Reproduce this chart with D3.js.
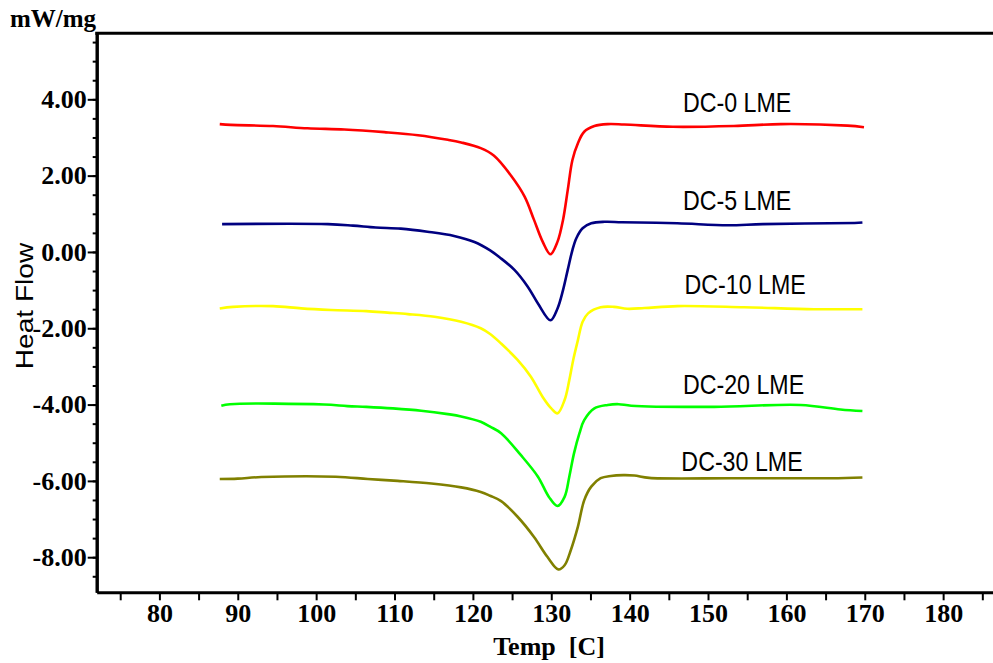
<!DOCTYPE html>
<html>
<head>
<meta charset="utf-8">
<script src="https://cdn.jsdelivr.net/npm/d3@7"></script>
<style>
  body { margin: 0; background: #fff; }
  svg { display: block; }
</style>
</head>
<body>
<div class="container"></div>
<script>
var width = 993, height = 663;

// DSC curves, [temp C, heat flow mW/mg]
var seriesNames = ["DC-0 LME", "DC-5 LME", "DC-10 LME", "DC-20 LME", "DC-30 LME"];
var seriesColors = ["#ff0000", "#000080", "#ffff00", "#00ff00", "#808000"];

var dc0 = [[87.7,3.35],[89.1,3.33],[94.5,3.30],[98.9,3.24],[103.6,3.21],[108.7,3.14],[113.0,3.06],
  [116.8,2.94],[118.5,2.87],[121.0,2.72],[122.7,2.52],[124.9,1.99],[126.6,1.45],[127.8,0.84],
  [128.9,0.27],[129.9,-0.06],[130.8,0.27],[131.5,0.84],[132.1,1.62],[132.7,2.41],[133.4,2.85],
  [134.2,3.15],[135.5,3.30],[137.2,3.35],[139.3,3.34],[145.5,3.28],[153.3,3.30],[159.3,3.35],
  [167.8,3.31],[169.9,3.27]];
var dc5 = [[88.0,0.73],[101.5,0.73],[104.7,0.69],[107.6,0.64],[110.8,0.61],[114.2,0.53],[117.6,0.42],
  [120.2,0.26],[122.2,0.04],[123.4,-0.14],[125.3,-0.47],[127.0,-0.91],[128.3,-1.35],[129.9,-1.79],
  [130.8,-1.48],[131.5,-1.00],[132.1,-0.47],[132.7,0.05],[133.2,0.36],[134.0,0.62],[135.1,0.75],
  [136.8,0.79],[139.0,0.78],[146.1,0.75],[152.5,0.70],[157.0,0.73],[168.7,0.76],[169.7,0.77]];
var dc10 = [[87.7,-1.48],[89.4,-1.44],[94.5,-1.42],[98.1,-1.48],[101.9,-1.52],[106.4,-1.55],[109.1,-1.59],
  [111.7,-1.63],[115.1,-1.70],[118.5,-1.83],[121.0,-2.00],[122.2,-2.15],[123.6,-2.40],[125.7,-2.83],
  [127.4,-3.27],[128.9,-3.80],[130.0,-4.10],[130.8,-4.23],[131.7,-3.88],[132.3,-3.36],[132.8,-2.83],
  [133.4,-2.31],[134.0,-1.83],[134.7,-1.61],[136.3,-1.45],[138.0,-1.44],[139.7,-1.49],
  [141.9,-1.47],[146.1,-1.42],[154.6,-1.45],[163.5,-1.50],[169.7,-1.50]];
var dc20 = [[87.9,-4.03],[89.0,-3.99],[101.0,-4.00],[104.0,-4.04],[106.4,-4.06],[109.8,-4.10],[113.4,-4.16],
  [116.8,-4.25],[118.5,-4.31],[121.0,-4.45],[122.2,-4.58],[123.6,-4.75],[126.1,-5.32],[128.3,-5.89],
  [129.7,-6.42],[130.8,-6.66],[131.7,-6.42],[132.3,-5.89],[132.9,-5.28],[133.6,-4.75],[134.2,-4.41],
  [135.5,-4.10],[137.2,-4.01],[138.6,-3.99],[140.2,-4.03],[150.8,-4.06],[161.8,-4.01],[166.9,-4.13],
  [169.7,-4.17]];
var dc30 = [[87.7,-5.95],[90.0,-5.94],[93.0,-5.90],[102.5,-5.89],[106.6,-5.95],[110.4,-6.00],[114.7,-6.07],
  [118.5,-6.17],[121.0,-6.29],[122.2,-6.39],[123.6,-6.53],[125.7,-6.94],[127.8,-7.47],[129.5,-7.99],
  [130.9,-8.32],[131.7,-8.21],[132.5,-7.81],[133.4,-7.20],[134.2,-6.51],[135.1,-6.15],[136.3,-5.93],
  [137.6,-5.87],[139.2,-5.85],[140.6,-5.86],[142.5,-5.92],[153.3,-5.93],[165.7,-5.93],[169.7,-5.91]];
var seriesData = [dc0, dc5, dc10, dc20, dc30];

// where each curve name sits, in data units
var labelTemps = [146.8, 146.8, 147.0, 146.8, 146.6];
var labelValues = [3.66, 1.09, -1.10, -3.72, -5.74];

var xTicks = d3.range(75, 186, 5);
var yMinorTicks = d3.range(-8.5, 5.6, 0.5);
var yTickLabels = [4, 2, 0, -2, -4, -6, -8];

var serif = "'Liberation Serif', 'Times New Roman', serif";
var sans = "'Liberation Sans', Arial, sans-serif";

var svg = d3.select('.container').append('svg')
    .attr('width', width)
    .attr('height', height);

var x = d3.scaleLinear().domain([72, 187]).range([96.7, 998]);
var y = d3.scaleLinear().domain([5.73, -8.92]).range([33.3, 592.3]);

// x axis
var xAxis = svg.append('g')
    .attr('transform', 'translate(0,' + y.range()[1] + ')')
    .call(d3.axisBottom(x).tickValues(xTicks).tickSize(8).tickSizeOuter(0)
      .tickFormat(function(d){ return d % 10 === 0 ? d : ''; }));

// y axis, minor then major
var yMinor = svg.append('g')
    .attr('transform', 'translate(' + x.range()[0] + ',0)')
    .call(d3.axisLeft(y).tickValues(yMinorTicks).tickSize(4).tickSizeOuter(0).tickFormat(''));
var yMajor = svg.append('g')
    .attr('transform', 'translate(' + x.range()[0] + ',0)')
    .call(d3.axisLeft(y).tickValues(yTickLabels).tickSize(9).tickSizeOuter(0).tickPadding(1)
      .tickFormat(function(d){ return d.toFixed(2); }));

[xAxis, yMinor, yMajor].forEach(function(g){
  g.attr('font-family', serif);
  g.select('.domain').attr('stroke', '#000').attr('stroke-width', 3);
  g.selectAll('.tick line').attr('stroke', '#000').attr('stroke-width', 2);
  g.selectAll('.tick text')
    .attr('fill', '#000')
    .style('font-family', serif)
    .style('font-weight', 'bold')
    .style('font-size', '26px');
});

// top frame line
svg.append('line')
    .attr('x1', x.range()[0] - 1.5).attr('x2', x.range()[1])
    .attr('y1', y.range()[0]).attr('y2', y.range()[0])
    .attr('stroke', '#000').attr('stroke-width', 3);

// curves
var line = d3.line()
    .x(function(d){ return x(d[0]); })
    .y(function(d){ return y(d[1]); })
    .curve(d3.curveCatmullRom.alpha(0.5));

svg.selectAll('path.curve')
   .data(seriesData)
   .enter().append('path')
   .attr('class', 'curve')
   .attr('d', line)
   .attr('fill', 'none')
   .attr('stroke', function(d, i){ return seriesColors[i]; })
   .attr('stroke-width', 2.6)
   .attr('stroke-linejoin', 'round');

// curve names
svg.selectAll('text.name')
   .data(seriesNames)
   .enter().append('text')
   .attr('class', 'name')
   .attr('transform', function(d, i){
      return 'translate(' + x(labelTemps[i]) + ',' + y(labelValues[i]) + ') scale(0.86,1)';
   })
   .style('font-family', sans)
   .style('font-size', '27px')
   .attr('fill', '#000')
   .text(function(d){ return d; });

// axis titles
svg.append('text')
    .attr('x', 10).attr('y', 27)
    .style('font-family', serif).style('font-weight', 'bold').style('font-size', '25px')
    .text('mW/mg');

svg.append('text')
    .attr('x', 549).attr('y', 655)
    .attr('text-anchor', 'middle')
    .style('white-space', 'pre')
    .style('font-family', serif).style('font-weight', 'bold').style('font-size', '26px')
    .text('Temp  [C]');

svg.append('text')
    .attr('transform', 'translate(33,306) rotate(-90) scale(1.17,1)')
    .attr('text-anchor', 'middle')
    .style('font-family', sans).style('font-size', '24px')
    .text('Heat Flow');
</script>
</body>
</html>
